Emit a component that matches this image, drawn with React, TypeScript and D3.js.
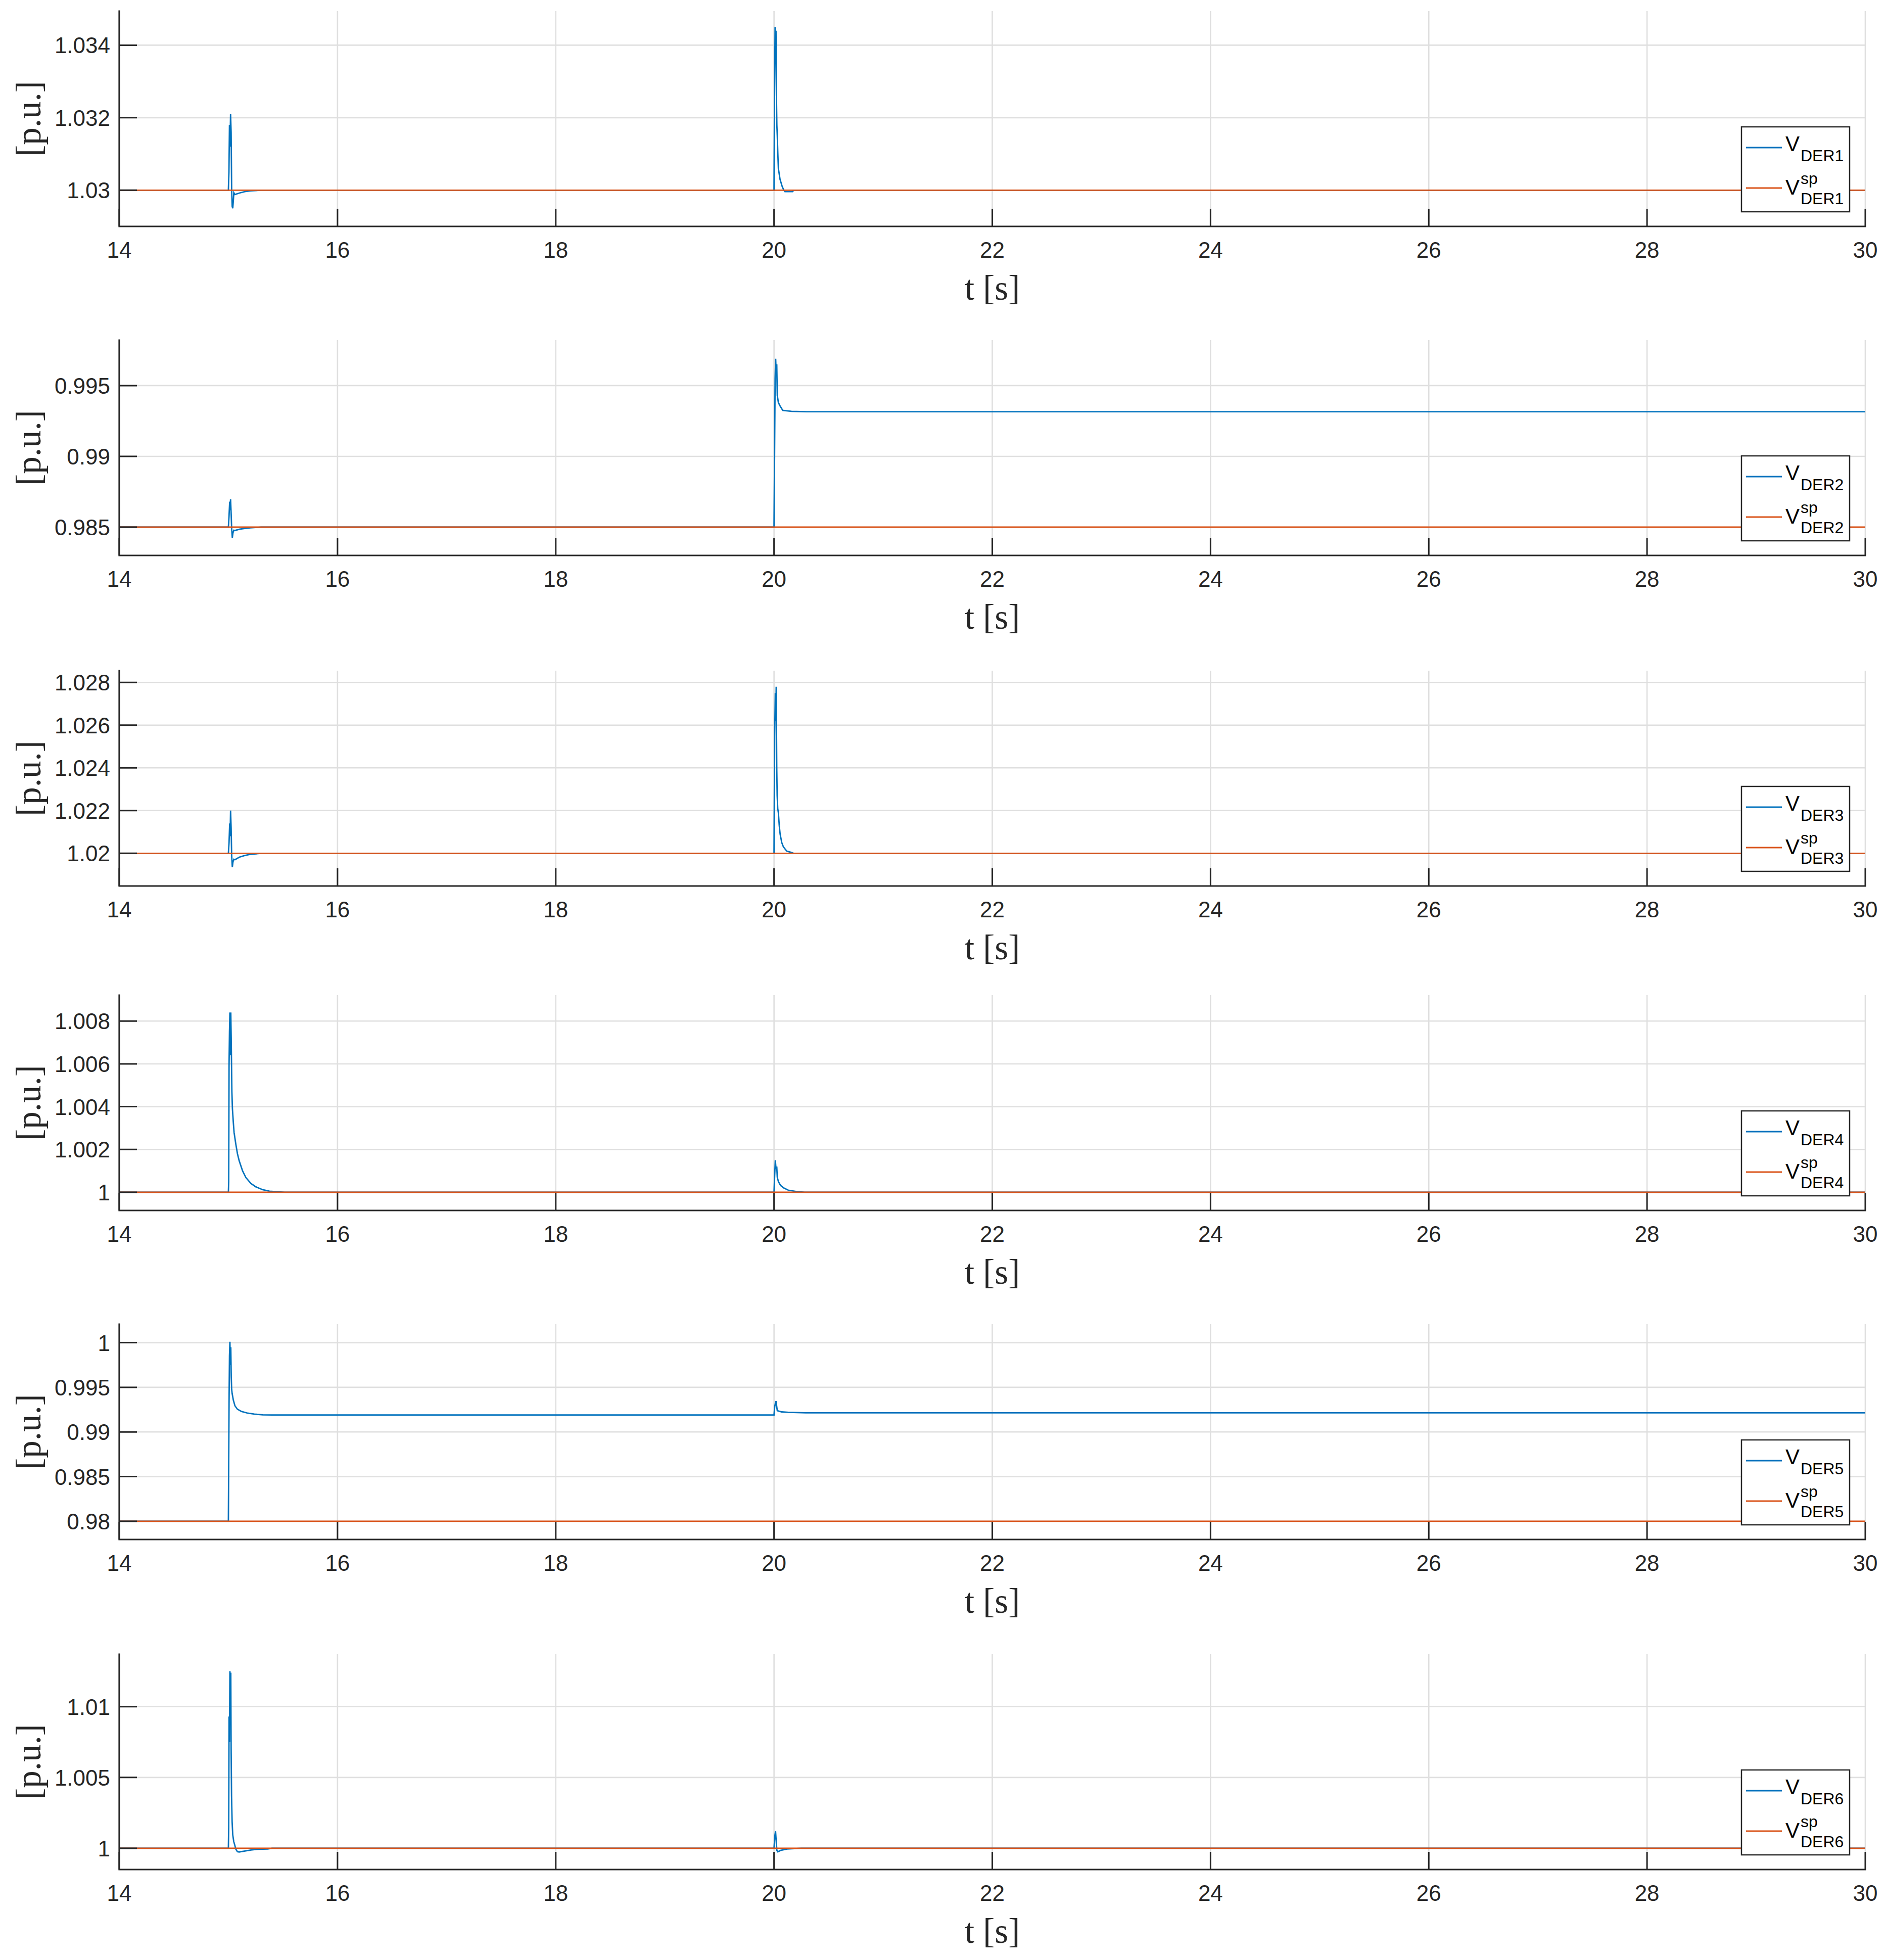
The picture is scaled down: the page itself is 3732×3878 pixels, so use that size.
import React from "react";
import * as d3 from "d3";

// page / axes layout
const WIDTH = 3732;
const HEIGHT = 3878;
const AX_LEFT = 236;
const AX_RIGHT = 3691;
const PANEL_BOTTOMS = [448, 1099, 1753, 2395, 3046, 3699];
const PANEL_HEIGHT = 426;
const TICK_LEN = 35;

const SANS = "'Liberation Sans', Arial, Helvetica, sans-serif";
const SERIF = "'Liberation Serif', 'Times New Roman', Times, serif";
const AXIS_COLOR = "#262626";
const GRID_COLOR = "#dfdfdf";
const BLUE = "#0072BD";
const ORANGE = "#D95319";

// data
const timeDomain = [14, 30];
const timeTicks = [14, 16, 18, 20, 22, 24, 26, 28, 30];

const derNames = ["DER1", "DER2", "DER3", "DER4", "DER5", "DER6"];
const setpoints = [1.03, 0.985, 1.02, 1.0, 0.98, 1.0];

const yLimits = [
  [1.029, 1.03494],
  [0.983, 0.99821],
  [1.01847, 1.02855],
  [0.99915, 1.00921],
  [0.97796, 1.00207],
  [0.9985, 1.0137],
];

const yTicks = [
  [1.03, 1.032, 1.034],
  [0.985, 0.99, 0.995],
  [1.02, 1.022, 1.024, 1.026, 1.028],
  [1, 1.002, 1.004, 1.006, 1.008],
  [0.98, 0.985, 0.99, 0.995, 1],
  [1, 1.005, 1.01],
];

// [t, V] samples
const vDer1: [number, number][] = [
  [14, 1.03], [15, 1.03], [15.005, 1.0305], [15.01, 1.0318], [15.015, 1.0312],
  [15.02, 1.0321], [15.025, 1.0316], [15.03, 1.03], [15.035, 1.02955], [15.04, 1.0295],
  [15.045, 1.0297], [15.05, 1.02993], [15.06, 1.02988], [15.1, 1.02992], [15.15, 1.02996],
  [15.2, 1.02998], [15.3, 1.03], [20, 1.03], [20.005, 1.0328], [20.01, 1.0345],
  [20.014, 1.0335], [20.018, 1.0344], [20.022, 1.0326], [20.026, 1.0318], [20.03, 1.0315],
  [20.035, 1.031], [20.04, 1.0306], [20.055, 1.0303], [20.075, 1.0301], [20.09, 1.03],
  [20.1, 1.02996], [20.17, 1.02996], [20.18, 1.03], [30, 1.03],
];

const vDer2: [number, number][] = [
  [14, 0.985], [15, 0.985], [15.006, 0.9858], [15.012, 0.9868], [15.016, 0.9862],
  [15.02, 0.98696], [15.025, 0.986], [15.03, 0.9849], [15.036, 0.98425], [15.042, 0.9846],
  [15.05, 0.98478], [15.06, 0.98476], [15.1, 0.98485], [15.15, 0.98491], [15.2, 0.98495],
  [15.3, 0.985], [20, 0.985], [20.005, 0.99], [20.01, 0.9955], [20.015, 0.9969],
  [20.02, 0.9958], [20.025, 0.9965], [20.03, 0.9943], [20.04, 0.9938], [20.055, 0.99357],
  [20.08, 0.99325], [20.16, 0.99318], [20.3, 0.99315], [30, 0.99315],
];

const vDer3: [number, number][] = [
  [14, 1.02], [15, 1.02], [15.006, 1.0205], [15.012, 1.0214], [15.016, 1.0208],
  [15.02, 1.022], [15.025, 1.0212], [15.03, 1.0199], [15.036, 1.01935], [15.042, 1.0196],
  [15.05, 1.01972], [15.06, 1.0197], [15.1, 1.01982], [15.15, 1.0199], [15.2, 1.01995],
  [15.3, 1.02], [20, 1.02], [20.006, 1.0255], [20.012, 1.0275], [20.016, 1.0262],
  [20.02, 1.0278], [20.025, 1.024], [20.029, 1.0227], [20.034, 1.0221], [20.04, 1.0219],
  [20.048, 1.0213], [20.056, 1.0209], [20.071, 1.0205], [20.086, 1.0203], [20.117, 1.0201],
  [20.148, 1.02006], [20.18, 1.02], [30, 1.02],
];

const vDer4: [number, number][] = [
  [14, 1.0], [15, 1.0], [15.003, 1.0005], [15.006, 1.0059], [15.01, 1.0075],
  [15.014, 1.0084], [15.018, 1.0064], [15.022, 1.0084], [15.026, 1.0071], [15.032, 1.0047],
  [15.037, 1.0039], [15.045, 1.00328], [15.052, 1.0028], [15.068, 1.00225], [15.083, 1.0018],
  [15.099, 1.00147], [15.13, 1.001], [15.16, 1.00069], [15.207, 1.00041], [15.253, 1.00025],
  [15.315, 1.00012], [15.377, 1.00005], [15.515, 1.0], [20, 1.0], [20.006, 1.0008],
  [20.012, 1.0015], [20.018, 1.0011], [20.025, 1.0012], [20.03, 1.0007], [20.04, 1.0005],
  [20.06, 1.00032], [20.09, 1.0002], [20.13, 1.0001], [20.2, 1.00004], [20.28, 1.0], [30, 1.0],
];

const vDer5: [number, number][] = [
  [14, 0.98], [15, 0.98], [15.003, 0.9865], [15.006, 0.9932], [15.01, 0.9985],
  [15.014, 1.0001], [15.018, 0.9975], [15.022, 0.9995], [15.026, 0.9962], [15.03, 0.9948],
  [15.034, 0.99434], [15.045, 0.99359], [15.06, 0.99293], [15.083, 0.99255], [15.12, 0.9923],
  [15.176, 0.99211], [15.238, 0.992], [15.315, 0.99192], [15.4, 0.9919], [20, 0.9919],
  [20.006, 0.9928], [20.012, 0.9932], [20.018, 0.99345], [20.022, 0.9931], [20.03, 0.99238],
  [20.07, 0.99225], [20.13, 0.9922], [20.29, 0.99215], [30, 0.99215],
];

const vDer6: [number, number][] = [
  [14, 1.0], [15, 1.0], [15.003, 1.0015], [15.006, 1.0093], [15.01, 1.0075],
  [15.014, 1.0125], [15.018, 1.0105], [15.022, 1.0124], [15.025, 1.007], [15.029, 1.0037],
  [15.034, 1.0019], [15.04, 1.00095], [15.049, 1.00048], [15.06, 1.00018], [15.068, 0.99994],
  [15.083, 0.99976], [15.099, 0.99974], [15.145, 0.9998], [15.207, 0.99988], [15.269, 0.99993],
  [15.361, 0.99995], [15.4, 1.0], [20, 1.0], [20.008, 1.0009], [20.014, 1.0012],
  [20.02, 1.0005], [20.026, 0.99985], [20.035, 0.99975], [20.06, 0.99985], [20.12, 0.99995],
  [20.25, 1.0], [30, 1.0],
];

const voltages = [vDer1, vDer2, vDer3, vDer4, vDer5, vDer6];

const fmtTick = (v: number) => String(+v.toFixed(4));

function Legend({ name, right, bottom }: { name: string; right: number; bottom: number }) {
  const w = 214;
  const h = 168;
  const left = right - 31 - w;
  const top = bottom - 29 - h;
  const vx = left + 87;
  const sx = left + 117;
  return (
    <g fontFamily={SANS} fill="#000">
      <rect x={left} y={top} width={w} height={h} fill="#fff" stroke={AXIS_COLOR} strokeWidth={2.5} />
      <line x1={left + 9} x2={left + 80} y1={top + 41} y2={top + 41} stroke={BLUE} strokeWidth={2.8} />
      <text x={vx} y={top + 48} fontSize={42}>V</text>
      <text x={sx} y={top + 68} fontSize={32}>{name}</text>
      <line x1={left + 9} x2={left + 80} y1={top + 121} y2={top + 121} stroke={ORANGE} strokeWidth={2.8} />
      <text x={vx} y={top + 134} fontSize={42}>V</text>
      <text x={sx} y={top + 113} fontSize={32}>sp</text>
      <text x={sx} y={top + 153} fontSize={32}>{name}</text>
    </g>
  );
}

function Panel({ index }: { index: number }) {
  const bottom = PANEL_BOTTOMS[index];
  const top = bottom - PANEL_HEIGHT;
  const x = d3.scaleLinear().domain(timeDomain).range([AX_LEFT, AX_RIGHT]);
  const y = d3.scaleLinear().domain(yLimits[index]).range([bottom, top]);
  const line = d3
    .line<[number, number]>()
    .x((d) => x(d[0]))
    .y((d) => y(d[1]));
  const sp: [number, number][] = [
    [timeDomain[0], setpoints[index]],
    [timeDomain[1], setpoints[index]],
  ];
  const clipId = `clip-${index}`;
  const midY = (top + bottom) / 2;

  return (
    <g>
      <defs>
        <clipPath id={clipId}>
          <rect x={AX_LEFT} y={top} width={AX_RIGHT - AX_LEFT} height={PANEL_HEIGHT} />
        </clipPath>
      </defs>
      {/* grid */}
      {timeTicks.map((t) => (
        <line key={`gx${t}`} x1={x(t)} x2={x(t)} y1={top} y2={bottom} stroke={GRID_COLOR} strokeWidth={2.6} />
      ))}
      {yTicks[index].map((v) => (
        <line key={`gy${v}`} x1={AX_LEFT} x2={AX_RIGHT} y1={y(v)} y2={y(v)} stroke={GRID_COLOR} strokeWidth={2.6} />
      ))}
      {/* traces */}
      <g clipPath={`url(#${clipId})`} fill="none" strokeLinejoin="miter">
        <path d={line(voltages[index]) || ""} stroke={BLUE} strokeWidth={2.8} />
        <path d={line(sp) || ""} stroke={ORANGE} strokeWidth={2.8} />
      </g>
      {/* ticks */}
      {timeTicks.map((t) => (
        <line key={`tx${t}`} x1={x(t)} x2={x(t)} y1={bottom} y2={bottom - TICK_LEN} stroke={AXIS_COLOR} strokeWidth={3} />
      ))}
      {yTicks[index].map((v) => (
        <line key={`ty${v}`} x1={AX_LEFT} x2={AX_LEFT + TICK_LEN} y1={y(v)} y2={y(v)} stroke={AXIS_COLOR} strokeWidth={3} />
      ))}
      {/* axis lines */}
      <path
        d={`M${AX_LEFT},${top}V${bottom}H${AX_RIGHT}`}
        fill="none"
        stroke={AXIS_COLOR}
        strokeWidth={3.2}
        strokeLinecap="square"
      />
      {/* tick labels */}
      <g fontFamily={SANS} fontSize={44} fill={AXIS_COLOR}>
        {timeTicks.map((t) => (
          <text key={`lx${t}`} x={x(t)} y={bottom + 62} textAnchor="middle">
            {t}
          </text>
        ))}
        {yTicks[index].map((v) => (
          <text key={`ly${v}`} x={AX_LEFT - 18} y={y(v) + 16} textAnchor="end">
            {fmtTick(v)}
          </text>
        ))}
      </g>
      {/* axis labels */}
      <text
        transform={`translate(80, ${midY}) rotate(-90)`}
        textAnchor="middle"
        fontFamily={SERIF}
        fontSize={69}
        fill={AXIS_COLOR}
      >
        [p.u.]
      </text>
      <text
        x={(AX_LEFT + AX_RIGHT) / 2}
        y={bottom + 145}
        textAnchor="middle"
        fontFamily={SERIF}
        fontSize={69}
        fill={AXIS_COLOR}
      >
        t [s]
      </text>
      <Legend name={derNames[index]} right={AX_RIGHT} bottom={bottom} />
    </g>
  );
}

export default function App() {
  return (
    <svg
      width={WIDTH}
      height={HEIGHT}
      viewBox={`0 0 ${WIDTH} ${HEIGHT}`}
      style={{ position: "absolute", left: 0, top: 0, background: "#fff" }}
    >
      <rect width={WIDTH} height={HEIGHT} fill="#fff" />
      {derNames.map((_, i) => (
        <Panel key={i} index={i} />
      ))}
    </svg>
  );
}
